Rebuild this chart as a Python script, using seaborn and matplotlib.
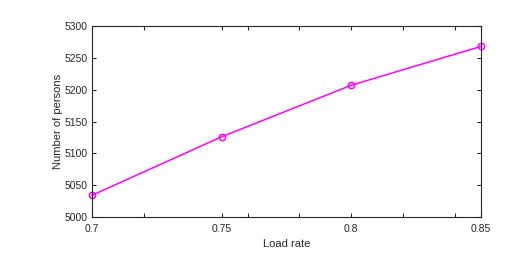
import matplotlib
matplotlib.use("Agg")
import matplotlib.pyplot as plt
import seaborn as sns
import pandas as pd

# data
load_rate = [0.70, 0.75, 0.80, 0.85]
persons = [5034, 5126, 5207, 5268]
x_labels = ["0.7", "0.75", "0.8", "0.85"]
x_minor = [0.72, 0.76, 0.78, 0.82, 0.84]
y_ticks = [5000, 5050, 5100, 5150, 5200, 5250, 5300]

sns.set_style("white")
plt.rcParams["font.family"] = ["Liberation Sans", "DejaVu Sans"]
grey = "#262626"

df = pd.DataFrame({"Load rate": load_rate, "Number of persons": persons})

fig = plt.figure(figsize=(5.15, 2.63), dpi=100)
ax = fig.add_axes([0.1786, 0.175, 0.7554, 0.726])

sns.lineplot(data=df, x="Load rate", y="Number of persons", ax=ax,
             color="#ff00ff", linewidth=1.1, marker="o", markersize=4.5,
             markerfacecolor="none", markeredgecolor="#ff00ff", markeredgewidth=1.1,
             clip_on=False)

ax.set_xlim(0.7, 0.85)
ax.set_ylim(5000, 5300)
ax.set_xticks(load_rate)
ax.set_xticklabels(x_labels)
ax.set_xticks(x_minor, minor=True)
ax.set_yticks(y_ticks)

for s in ax.spines.values():
    s.set_color(grey)
    s.set_linewidth(0.8)

ax.tick_params(axis="both", which="both", direction="in", length=3, width=0.8,
               top=True, right=True, bottom=True, left=True,
               colors=grey, labelsize=7.5)
ax.tick_params(axis="x", which="major", pad=5)
ax.tick_params(axis="y", which="major", pad=3)
ax.tick_params(axis="both", which="minor", labelbottom=False)

ax.set_xlabel("Load rate", fontsize=8, color=grey, labelpad=4)
ax.set_ylabel("Number of persons", fontsize=8, color=grey, labelpad=1)

fig.savefig("out.png", dpi=100)
